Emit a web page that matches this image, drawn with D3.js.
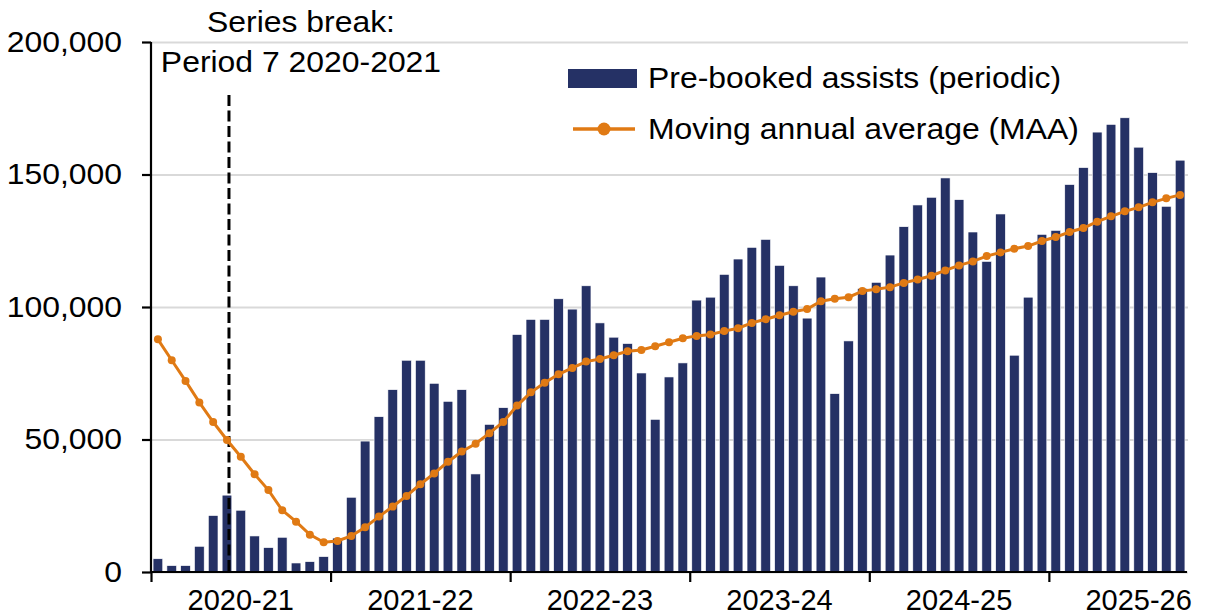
<!DOCTYPE html>
<html>
<head>
<meta charset="utf-8">
<script src="https://cdn.jsdelivr.net/npm/d3@7"></script>
<style>
  body { margin: 0; background: #fff; }
  svg { display: block; font-family: "Liberation Sans", Arial, sans-serif; }
</style>
</head>
<body>
<svg id="chart"></svg>
<script>
const years = ["2020-21", "2021-22", "2022-23", "2023-24", "2024-25", "2025-26"];
const periodsPerYear = 13;

// pre-booked assists, one value per 4-week period
const assists = [
  5000, 2400, 2400, 9700, 21300, 29000, 23300, 13600, 9200, 13100, 3400, 3900, 5800,
  12800, 28200, 49400, 58600, 68800, 79900, 79900, 71200, 64400, 68800, 37000, 55700, 62000,
  89600, 95300, 95300, 103100, 99200, 108000, 94000, 88600, 86200, 75100, 57600, 73600, 78900,
  102600, 103700, 112300, 118100, 122500, 125500, 115700, 108000, 95800, 111300, 67300, 87200, 107000,
  109300, 119600, 130300, 138500, 141400, 148700, 140500, 128300, 117200, 135100, 81800, 103700, 127400,
  128900, 146200, 152600, 166000, 168900, 171400, 160300, 150700, 138000, 155400
];

// moving annual average
const maa = [
  87800, 79900, 72100, 64000, 56600, 49800, 43500, 36900, 30900, 23300, 19000, 14100, 11200,
  11700, 13600, 16900, 20900, 24700, 28700, 33100, 37200, 41600, 45500, 48400, 52400, 56600,
  62800, 67800, 71400, 74600, 77000, 79400, 80400, 81800, 83300, 83800, 85200, 86700, 88200,
  89100, 89600, 90900, 92000, 94000, 95400, 96900, 98200, 99200, 102200, 103100, 103700, 106000,
  106700, 107500, 109100, 110400, 111800, 113800, 115700, 117200, 119200, 120600, 122000, 123000, 124900,
  126400, 128300, 129800, 132200, 134200, 136100, 137600, 139500, 141000, 142300
];

const yTicks = [0, 50000, 100000, 150000, 200000];
const breakPeriod = 6; // dashed line sits at period 6/7 of 2020-21

const width = 1214;
const height = 616;
const marginLeft = 151;
const marginRight = 27;
const marginTop = 42;
const marginBottom = 44;
const navy = "#253165";
const orange = "#E07A14";
const fontSize = 29;
const textStretch = 1.1; // source type is a little wider than Arial

const svg = d3.select("#chart").attr("width", width).attr("height", height);

const idx = d3.range(assists.length);

const x = d3.scaleBand()
  .domain(idx)
  .range([marginLeft, width - marginRight])
  .paddingInner(0.3)
  .paddingOuter(0.15);

// continuous period scale for year boundaries
const xp = d3.scaleLinear()
  .domain([0, assists.length])
  .range([marginLeft, width - marginRight]);

const y = d3.scaleLinear()
  .domain([0, 200000])
  .range([height - marginBottom, marginTop]);

// gridlines
svg.append("g")
  .attr("class", "y-grid")
  .attr("transform", `translate(${marginLeft},0)`)
  .call(d3.axisLeft(y).tickValues(yTicks).tickSize(-(width - marginRight - marginLeft + 1)).tickFormat(""))
  .call((g) => g.select(".domain").remove())
  .selectAll(".tick line")
  .attr("stroke", "#d9d9d9")
  .attr("stroke-width", 2);

// bars
svg.append("g")
  .selectAll("rect")
  .data(idx)
  .join("rect")
  .attr("x", (i) => x(i))
  .attr("y", (i) => y(assists[i]))
  .attr("width", x.bandwidth())
  .attr("height", (i) => y(0) - y(assists[i]))
  .attr("fill", navy)
  .attr("stroke", "#fff")
  .attr("stroke-width", 0.6);

// series break
const bx = x(breakPeriod - 1) + x.bandwidth() / 2 + 2;
svg.append("line")
  .attr("x1", bx)
  .attr("x2", bx)
  .attr("y1", 95)
  .attr("y2", y(0))
  .attr("stroke", "#000")
  .attr("stroke-width", 3)
  .attr("stroke-dasharray", "11,4.5");

// MAA line
const line = d3.line()
  .x((d, i) => x(i) + x.bandwidth() / 2)
  .y((d) => y(d));

svg.append("path")
  .datum(maa)
  .attr("fill", "none")
  .attr("stroke", orange)
  .attr("stroke-width", 3)
  .attr("d", line);

svg.append("g")
  .selectAll("circle")
  .data(maa)
  .join("circle")
  .attr("cx", (d, i) => x(i) + x.bandwidth() / 2)
  .attr("cy", (d) => y(d))
  .attr("r", 4)
  .attr("fill", orange);

// y axis
const yAxis = svg.append("g")
  .attr("transform", `translate(${marginLeft},0)`)
  .call(d3.axisLeft(y).tickValues(yTicks).tickSize(9).tickPadding(20).tickFormat(d3.format(",")));
yAxis.select(".domain").attr("stroke", "#000").attr("stroke-width", 2.2).attr("d", `M0,${y(200000)}V${y(0)}`);
yAxis.selectAll(".tick line").attr("stroke", "#000").attr("stroke-width", 2.2);
yAxis.selectAll("text")
  .attr("class", "stretch")
  .attr("font-size", fontSize)
  .attr("font-family", "Liberation Sans, Arial, sans-serif")
  .attr("fill", "#000");

// x axis, ticks at year boundaries
const xAxis = svg.append("g")
  .attr("transform", `translate(0,${y(0)})`)
  .call(d3.axisBottom(xp).tickValues(d3.range(0, assists.length, periodsPerYear)).tickSize(10).tickFormat(""));
xAxis.select(".domain").attr("stroke", "#000").attr("stroke-width", 2.2).attr("d", `M${marginLeft},0H${width - marginRight}`);
xAxis.selectAll(".tick line").attr("stroke", "#000").attr("stroke-width", 2.2);

svg.append("g")
  .selectAll("text")
  .data(years)
  .join("text")
  .attr("x", (d, i) => xp(i * periodsPerYear + periodsPerYear / 2))
  .attr("y", 610)
  .attr("text-anchor", "middle")
  .attr("font-size", fontSize)
  .text((d) => d);

// annotation
svg.append("text")
  .attr("class", "stretch")
  .attr("x", 301)
  .attr("y", 32)
  .attr("text-anchor", "middle")
  .attr("font-size", fontSize)
  .text("Series break:");
svg.append("text")
  .attr("class", "stretch")
  .attr("x", 301)
  .attr("y", 72)
  .attr("text-anchor", "middle")
  .attr("font-size", fontSize)
  .text("Period 7 2020-2021");

// legend
const legend = svg.append("g").attr("transform", "translate(568,0)");
legend.append("rect")
  .attr("x", 0)
  .attr("y", 69)
  .attr("width", 69)
  .attr("height", 19)
  .attr("fill", navy);
legend.append("text")
  .attr("class", "stretch")
  .attr("x", 80)
  .attr("y", 88)
  .attr("font-size", fontSize)
  .text("Pre-booked assists (periodic)");
legend.append("line")
  .attr("x1", 5)
  .attr("x2", 67)
  .attr("y1", 129)
  .attr("y2", 129)
  .attr("stroke", orange)
  .attr("stroke-width", 3.5);
legend.append("circle")
  .attr("cx", 36)
  .attr("cy", 129)
  .attr("r", 6.5)
  .attr("fill", orange);
legend.append("text")
  .attr("class", "stretch")
  .attr("x", 80)
  .attr("y", 139)
  .attr("font-size", fontSize)
  .text("Moving annual average (MAA)");

// widen labels to the source's proportions (year labels keep natural width)
svg.selectAll("text.stretch").each(function () {
  const w = this.getComputedTextLength();
  this.setAttribute("textLength", w * textStretch);
  this.setAttribute("lengthAdjust", "spacingAndGlyphs");
});
</script>
</body>
</html>
